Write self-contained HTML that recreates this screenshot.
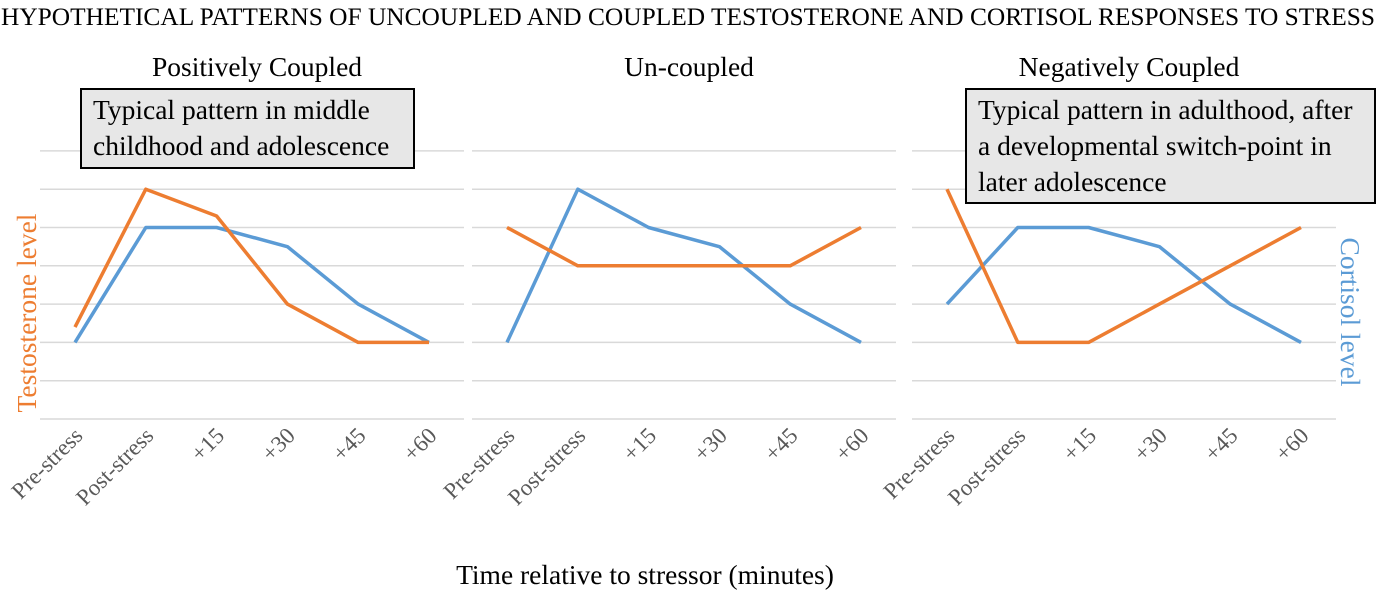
<!DOCTYPE html>
<html><head><meta charset="utf-8"><style>
body{margin:0;background:#fff;}
svg, svg text{font-family:"Liberation Serif","DejaVu Serif",serif;}
svg{display:block;}
</style></head><body>
<svg width="1379" height="592" viewBox="0 0 1379 592">
<text x="688" y="25" text-anchor="middle" font-size="25.3" fill="#000" textLength="1374" lengthAdjust="spacingAndGlyphs">HYPOTHETICAL PATTERNS OF UNCOUPLED AND COUPLED TESTOSTERONE AND CORTISOL RESPONSES TO STRESS</text>
<g id="panels"></g>
<text x="645" y="584" text-anchor="middle" font-size="27.5" fill="#000">Time relative to stressor (minutes)</text>
<text transform="translate(36,313) rotate(-90)" text-anchor="middle" font-size="27.5" fill="#ED7D31">Testosterone level</text>
<text transform="translate(1341,312) rotate(90)" text-anchor="middle" font-size="27.5" fill="#5B9BD5">Cortisol level</text>
</svg>
<script>
const categories=["Pre-stress","Post-stress","+15","+30","+45","+60"];
const panelTitles=["Positively Coupled","Un-coupled","Negatively Coupled"];
const testosterone1=[2.4,6,5.3,3,2,2];
const cortisol1=[2,5,5,4.5,3,2];
const testosterone2=[5,4,4,4,4,5];
const cortisol2=[2,6,5,4.5,3,2];
const testosterone3=[6,2,2,3,4,5];
const cortisol3=[3,5,5,4.5,3,2];
const gridLevels=[0,1,2,3,4,5,6,7];
const testoSeries=[testosterone1,testosterone2,testosterone3];
const cortSeries=[cortisol1,cortisol2,cortisol3];
const NS="http://www.w3.org/2000/svg";
const FONT='"Liberation Serif", serif';
const g=document.getElementById('panels');
const panelX=[40,472,912],panelW=424;
const y=v=>419-v*38.3;
function mk(t,a){const e=document.createElementNS(NS,t);for(const k in a)e.setAttribute(k,a[k]);return e;}
panelTitles.forEach((title,p)=>{
  const x0=panelX[p];
  const x=i=>x0+35+i*70.8;
  gridLevels.forEach(l=>{
    const ln=mk('line',{x1:x0,x2:x0+panelW,y1:y(l),y2:y(l),stroke:'#d9d9d9','stroke-width':1.5});
    
    
    g.appendChild(ln);
  });
  const t=mk('text',{x:x0+panelW/2+5,y:76,'text-anchor':'middle','font-size':27.5,fill:'#000','font-family':FONT});
  t.textContent=title;
  
  
  g.appendChild(t);
  categories.forEach((c,i)=>{
    const lt=mk('text',{transform:`translate(${x(i)+9},437) rotate(-45)`,'text-anchor':'end','font-size':23,fill:'#595959','font-family':FONT});
    lt.textContent=c;
    
    
    g.appendChild(lt);
  });
  [[cortSeries[p],'#5B9BD5','cortisol-line'],[testoSeries[p],'#ED7D31','testosterone-line']].forEach(([d,col,nm])=>{
    const pl=mk('polyline',{points:d.map((v,i)=>x(i)+','+y(v)).join(' '),fill:'none',stroke:col,'stroke-width':3.5,'stroke-linejoin':'round'});
    
    
    g.appendChild(pl);
  });
});
function box(x,yy,w,h,lines,name){
  const r=mk('rect',{x:x,y:yy,width:w,height:h,fill:'#e7e7e7',stroke:'#000','stroke-width':2});
  
  
  g.appendChild(r);
  lines.forEach((s,i)=>{
    const t=mk('text',{x:x+12,y:yy+30+i*36,'font-size':27.5,fill:'#000','font-family':FONT});
    t.textContent=s;
    
    
    g.appendChild(t);
  });
}
box(81,89,333,79,["Typical pattern in middle","childhood and adolescence"],'annotation-box-childhood');
box(966,89,409,114,["Typical pattern in adulthood, after","a developmental switch-point in","later adolescence"],'annotation-box-adulthood');
</script>
</body></html>
